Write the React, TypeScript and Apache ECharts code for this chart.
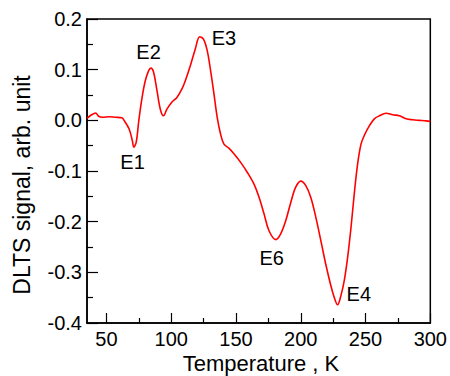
import React, { useEffect, useRef } from "react";
import * as echarts from "echarts";

const temperatureK = [
  35, 38, 41.7, 44, 47, 52, 57, 62, 63.6, 67.5, 70, 71.1, 73, 75, 77.5, 80, 82.6, 84.4, 86.4, 89, 91.6, 94,
  96.7, 100.6, 104.4, 108.3, 110.9, 114.8, 118.6, 122, 125, 127.8, 130.4, 133, 135.5, 138.1, 140.7, 144.5,
  148.4, 153.6, 158.8, 163.9, 167.8, 171.7, 175.5, 180.7, 184.5, 188.4, 192.3, 196.1, 200, 203.9, 207.7,
  211.6, 215.5, 219.3, 223.2, 225.8, 228.4, 231, 233.6, 236.2, 238.8, 241.3, 243.9, 246.5, 249, 252.9,
  256.8, 260.7, 265.8, 271, 276.1, 281.3, 286.5, 291.6, 296.8, 300,
];
const dltsSignal = [
  0.004, 0.01, 0.0145, 0.008, 0.006, 0.007, 0.006, 0.005, 0.0, -0.017, -0.04, -0.053, -0.043, 0.0, 0.045,
  0.078, 0.098, 0.103, 0.095, 0.059, 0.022, 0.009, 0.022, 0.036, 0.045, 0.062, 0.078, 0.108, 0.141, 0.165,
  0.16, 0.1375, 0.098, 0.052, 0.006, -0.027, -0.047, -0.055, -0.066, -0.083, -0.103, -0.126, -0.152, -0.185,
  -0.218, -0.2355, -0.224, -0.198, -0.162, -0.132, -0.12, -0.129, -0.152, -0.191, -0.2375, -0.284, -0.326,
  -0.349, -0.364, -0.346, -0.316, -0.27, -0.211, -0.145, -0.086, -0.047, -0.03, -0.011, 0.003, 0.009, 0.014,
  0.011, 0.009, 0.003, 0.001, 0.0, -0.001, -0.002,
];

const peakNames = ["E1", "E2", "E3", "E6", "E4"];
const peakLabelT = [70.2, 82.5, 140.7, 177.5, 244.8];
const peakLabelY = [-0.082, 0.135, 0.1625, -0.272, -0.343];

const xMajorTicks = [50, 100, 150, 200, 250, 300];
const xMinorTicks = [75, 125, 175, 225, 275];

const xTitle = "Temperature , K";
const yTitle = "DLTS signal, arb. unit";

const FONT = "Liberation Sans, Arial, Helvetica, sans-serif";

export default function App() {
  const ref = useRef<HTMLDivElement>(null);
  useEffect(() => {
    document.body.style.margin = "0";
    if (!ref.current) return;
    const chart = echarts.init(ref.current, null, { renderer: "svg" });
    const curve = temperatureK.map((t, i) => [t, dltsSignal[i]]);
    const labels = peakNames.map((n, i) => ({ name: n, value: [peakLabelT[i], peakLabelY[i]] }));
    chart.setOption({
      animation: false,
      backgroundColor: "#ffffff",
      grid: {
        left: 87,
        right: 17,
        top: 19,
        bottom: 53,
        show: true,
        borderColor: "#000",
        borderWidth: 1.5,
        backgroundColor: "transparent",
      },
      xAxis: [
        {
          type: "value",
          min: 35,
          max: 300,
          axisLine: { show: true, onZero: false, lineStyle: { color: "#000", width: 1.5 } },
          axisTick: { show: true, inside: true, length: 10, customValues: xMajorTicks, lineStyle: { color: "#000", width: 1.2 } },
          axisLabel: { customValues: xMajorTicks, color: "#000", fontSize: 20, fontFamily: FONT, margin: 6 },
          splitLine: { show: false },
        },
        {
          type: "value",
          min: 35,
          max: 300,
          position: "bottom",
          axisLine: { show: false, onZero: false },
          axisTick: { show: true, inside: true, length: 5, customValues: xMinorTicks, lineStyle: { color: "#000", width: 1.2 } },
          axisLabel: { show: false },
          splitLine: { show: false },
        },
      ],
      yAxis: {
        type: "value",
        min: -0.4,
        max: 0.2,
        interval: 0.1,
        axisLine: { show: true, onZero: false, lineStyle: { color: "#000", width: 1.5 } },
        axisTick: { show: true, inside: true, length: 11, lineStyle: { color: "#000", width: 1.2 } },
        minorTick: { show: true, splitNumber: 2, length: 6, lineStyle: { color: "#000", width: 1.2 } },
        axisLabel: {
          color: "#000",
          fontSize: 20,
          fontFamily: FONT,
          margin: 5,
          formatter: (v: number) => v.toFixed(1),
        },
        splitLine: { show: false },
        minorSplitLine: { show: false },
      },
      graphic: [
        {
          type: "text",
          x: 261,
          y: 363,
          style: { text: xTitle, fontSize: 22, fontFamily: FONT, fill: "#000", textAlign: "center", textVerticalAlign: "middle" },
        },
        {
          type: "text",
          x: 22,
          y: 185,
          rotation: Math.PI / 2,
          style: { text: yTitle, fontSize: 23, fontFamily: FONT, fill: "#000", textAlign: "center", textVerticalAlign: "middle" },
        },
      ],
      series: [
        {
          type: "line",
          data: curve,
          showSymbol: false,
          smooth: 0.35,
          lineStyle: { color: "#ff0000", width: 1.6 },
          z: 3,
        },
        {
          type: "scatter",
          data: labels,
          symbolSize: 0,
          itemStyle: { opacity: 1, color: "#000" },
          label: {
            show: true,
            position: "inside",
            formatter: (p: any) => p.name,
            color: "#000",
            opacity: 1,
            textBorderWidth: 0,
            fontSize: 20,
            fontFamily: FONT,
          },
          silent: true,
        },
      ],
    });
    return () => chart.dispose();
  }, []);
  return <div ref={ref} style={{ width: 450, height: 376 }} />;
}
